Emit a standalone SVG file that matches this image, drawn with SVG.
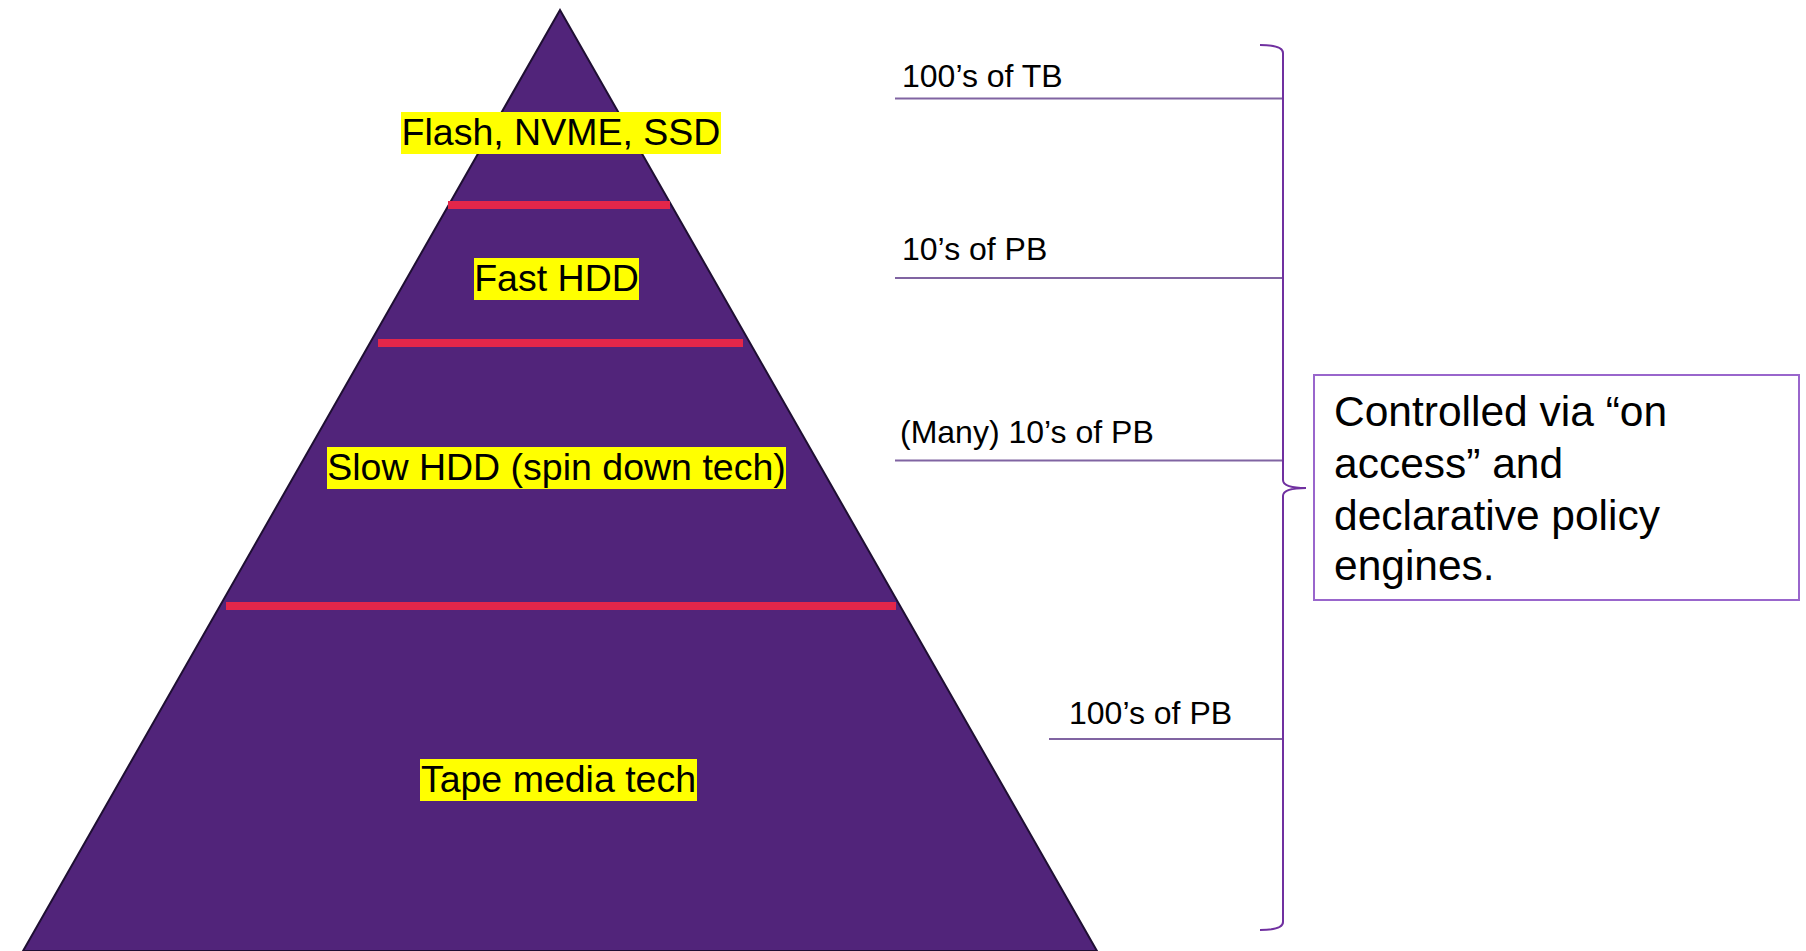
<svg xmlns="http://www.w3.org/2000/svg" width="1806" height="951" viewBox="0 0 1806 951">
<style>
  .tier { font-family: "Liberation Sans", Arial, sans-serif; font-size: 37.5px; fill: #000; text-anchor: middle; }
  .hl { fill: #FFFF00; }
  .sep { stroke: #E3264A; stroke-width: 8; }
  .cap { font-family: "Liberation Sans", Arial, sans-serif; font-size: 32px; fill: #000; }
  .lead { stroke: #8064A2; stroke-width: 2; fill: none; }
  .brace { stroke: #7030A0; stroke-width: 2; fill: none; }
  .note { font-family: "Liberation Sans", Arial, sans-serif; font-size: 42.5px; fill: #000; }
</style>
<rect width="1806" height="951" fill="#FFFFFF"/>
<g id="pyramid">
  <polygon points="560,10 23,951 1097,951" fill="#51247A" stroke="#1F0F33" stroke-width="2"/>
  <line class="sep" x1="448" y1="205" x2="670" y2="205"/>
  <line class="sep" x1="378" y1="343" x2="743" y2="343"/>
  <line class="sep" x1="226" y1="606" x2="896" y2="606"/>
</g>
<g id="tier-flash">
  <rect class="hl" x="401" y="112" width="320" height="42"/>
  <text class="tier" x="561" y="145">Flash, NVME, SSD</text>
</g>
<g id="tier-fast">
  <rect class="hl" x="474" y="258" width="165" height="42"/>
  <text class="tier" x="556.5" y="291">Fast HDD</text>
</g>
<g id="tier-slow">
  <rect class="hl" x="327" y="447" width="459" height="42"/>
  <text class="tier" x="556.5" y="480">Slow HDD (spin down tech)</text>
</g>
<g id="tier-tape">
  <rect class="hl" x="420" y="759" width="277" height="42"/>
  <text class="tier" x="558.5" y="792">Tape media tech</text>
</g>
<g id="connectors">
  <line class="lead" x1="895" y1="98.5" x2="1283" y2="98.5"/>
  <line class="lead" x1="895" y1="278" x2="1283" y2="278"/>
  <line class="lead" x1="895" y1="460.5" x2="1283" y2="460.5"/>
  <line class="lead" x1="1049" y1="739" x2="1283" y2="739"/>
  <path class="brace" d="M1260,45 Q1283,45 1283,53 L1283,480 Q1283,488 1306,488 Q1283,488 1283,496 L1283,922 Q1283,930 1260,930"/>
</g>
<g id="label-tb">
  <text class="cap" x="902" y="87">100’s of TB</text>
</g>
<g id="label-pb10">
  <text class="cap" x="902" y="260">10’s of PB</text>
</g>
<g id="label-many">
  <text class="cap" x="900" y="443">(Many) 10’s of PB</text>
</g>
<g id="label-pb100">
  <text class="cap" x="1069" y="724">100’s of PB</text>
</g>
<g id="note">
  <rect x="1314" y="375" width="485" height="225" fill="#FFFFFF" stroke="#9966CC" stroke-width="2"/>
  <text class="note">
    <tspan x="1334" y="426">Controlled via “on</tspan>
    <tspan x="1334" y="478">access” and</tspan>
    <tspan x="1334" y="530">declarative policy</tspan>
    <tspan x="1334" y="580">engines.</tspan>
  </text>
</g>
</svg>
